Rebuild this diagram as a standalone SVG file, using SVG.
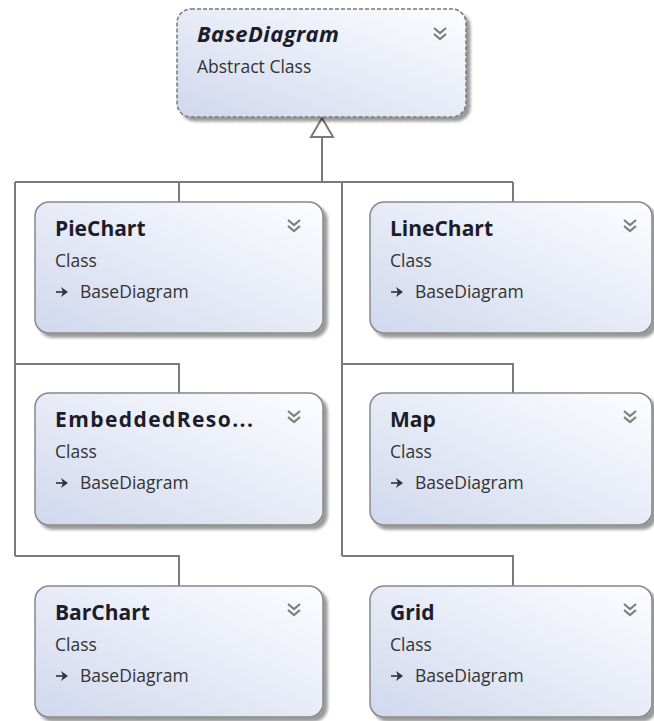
<svg xmlns="http://www.w3.org/2000/svg" width="654" height="721" viewBox="0 0 654 721">
  <defs>
    <linearGradient id="boxFill" x1="0" y1="1" x2="1" y2="0">
      <stop offset="0" stop-color="#d0d8ed"/>
      <stop offset="0.55" stop-color="#e9edf8"/>
      <stop offset="1" stop-color="#fdfdff"/>
    </linearGradient>
    <filter id="shadow" x="-10%" y="-10%" width="130%" height="130%">
      <feGaussianBlur in="SourceAlpha" stdDeviation="1.8"/>
      <feOffset dx="4" dy="4" result="off"/>
      <feComponentTransfer><feFuncA type="linear" slope="0.4"/></feComponentTransfer>
      <feMerge><feMergeNode/><feMergeNode in="SourceGraphic"/></feMerge>
    </filter>
    <g id="chevron">
      <polyline points="-6,-6 0,-1 6,-6" fill="none" stroke="#7d7d7d" stroke-width="2.2"/>
      <polyline points="-6,0 0,5 6,0" fill="none" stroke="#7d7d7d" stroke-width="2.2"/>
    </g>
    <g id="inherits">
      <line x1="0" y1="0" x2="7" y2="0" stroke="#333" stroke-width="1.6"/>
      <path d="M5,-5 L12,0 L5,5 L7,0 Z" fill="#333"/>
    </g>
  </defs>
  <style>
    .box { fill: url(#boxFill); stroke: #888; stroke-width: 1.5; filter: url(#shadow); }
    .abstract { stroke-dasharray: 4 2; stroke: #777; }
    .title { font-family: "Open Sans", "Noto Sans", sans-serif; font-weight: bold; font-size: 21px; fill: #1c1c2a; }
    .italic { font-style: italic; font-size: 22px; }
    .sub { font-family: "Open Sans", "Noto Sans", sans-serif; font-size: 17.5px; fill: #333; }
    .conn { fill: none; stroke: #7a7a7a; stroke-width: 2; }
  </style>
  <rect width="654" height="721" fill="#ffffff"/>

  <g id="connectors">
    <polygon points="322,118 311,137 333,137" fill="#ffffff" stroke="#7a7a7a" stroke-width="2"/>
    <path class="conn" d="M322,137 V182 M15,182 H513 M179,182 V202 M513,182 V202"/>
    <path class="conn" d="M15,182 V556 M342,182 V556"/>
    <path class="conn" d="M15,364 H179 V393 M342,364 H513 V393"/>
    <path class="conn" d="M15,556 H179 V586 M342,556 H513 V586"/>
  </g>

  <g id="BaseDiagram">
    <rect class="box abstract" x="177" y="9" width="289" height="108" rx="14"/>
    <text class="title italic" x="197" y="42" textLength="142">BaseDiagram</text>
    <text class="sub" x="197" y="73">Abstract Class</text>
    <use href="#chevron" x="440" y="34"/>
  </g>

  <g id="PieChart">
    <rect class="box" x="35" y="202" width="288" height="131" rx="14"/>
    <text class="title" x="55" y="236">PieChart</text>
    <text class="sub" x="55" y="267">Class</text>
    <use href="#inherits" x="56" y="292"/>
    <text class="sub" x="80" y="298">BaseDiagram</text>
    <use href="#chevron" x="294" y="226"/>
  </g>

  <g id="LineChart">
    <rect class="box" x="370" y="202" width="282" height="131" rx="14"/>
    <text class="title" x="390" y="236">LineChart</text>
    <text class="sub" x="390" y="267">Class</text>
    <use href="#inherits" x="391" y="292"/>
    <text class="sub" x="415" y="298">BaseDiagram</text>
    <use href="#chevron" x="630" y="226"/>
  </g>

  <g id="EmbeddedResource">
    <rect class="box" x="35" y="393" width="288" height="132" rx="14"/>
    <text class="title" x="55" y="427" textLength="198">EmbeddedReso...</text>
    <text class="sub" x="55" y="458">Class</text>
    <use href="#inherits" x="56" y="483"/>
    <text class="sub" x="80" y="489">BaseDiagram</text>
    <use href="#chevron" x="294" y="417"/>
  </g>

  <g id="Map">
    <rect class="box" x="370" y="393" width="282" height="132" rx="14"/>
    <text class="title" x="390" y="427">Map</text>
    <text class="sub" x="390" y="458">Class</text>
    <use href="#inherits" x="391" y="483"/>
    <text class="sub" x="415" y="489">BaseDiagram</text>
    <use href="#chevron" x="630" y="417"/>
  </g>

  <g id="BarChart">
    <rect class="box" x="35" y="586" width="288" height="131" rx="14"/>
    <text class="title" x="55" y="620">BarChart</text>
    <text class="sub" x="55" y="651">Class</text>
    <use href="#inherits" x="56" y="676"/>
    <text class="sub" x="80" y="682">BaseDiagram</text>
    <use href="#chevron" x="294" y="610"/>
  </g>

  <g id="Grid">
    <rect class="box" x="370" y="586" width="282" height="131" rx="14"/>
    <text class="title" x="390" y="620">Grid</text>
    <text class="sub" x="390" y="651">Class</text>
    <use href="#inherits" x="391" y="676"/>
    <text class="sub" x="415" y="682">BaseDiagram</text>
    <use href="#chevron" x="630" y="610"/>
  </g>
</svg>
